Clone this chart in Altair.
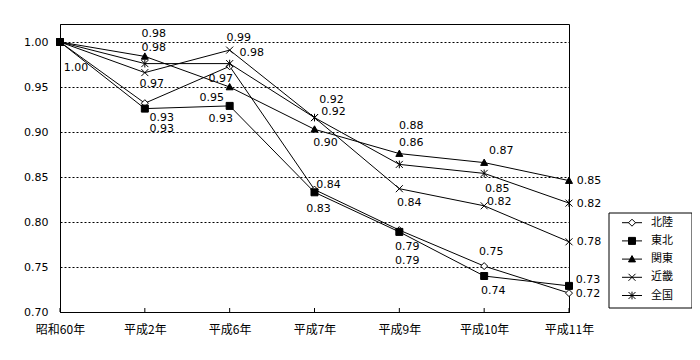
import altair as alt
import pandas as pd

categories = ["昭和60年", "平成2年", "平成6年", "平成7年", "平成9年", "平成10年", "平成11年"]
series_names = ["北陸", "東北", "関東", "近畿", "全国"]

hokuriku = [1.00, 0.932, 0.973, 0.836, 0.791, 0.751, 0.721]
tohoku = [1.00, 0.926, 0.929, 0.833, 0.789, 0.740, 0.729]
kanto = [1.00, 0.984, 0.950, 0.903, 0.876, 0.866, 0.846]
kinki = [1.00, 0.966, 0.991, 0.916, 0.837, 0.818, 0.778]
zenkoku = [1.00, 0.976, 0.976, 0.916, 0.864, 0.854, 0.821]

y_ticks = [0.70, 0.75, 0.80, 0.85, 0.90, 0.95, 1.00]

# label placement offsets in pixels (styling only)
label_dx = {
    "北陸": [16, 17, -9, 14, 8, 7, 19],
    "東北": [0, 17, -9, 4, 8, 9, 19],
    "関東": [0, 9, -18, 11, 12, 17, 20],
    "近畿": [0, 7, 9, 17, 10, 15, 20],
    "全国": [0, 9, 22, 19, 12, 13, 20],
}
label_dy = {
    "北陸": [26, 15, 13, -5, 17, -14, 1],
    "東北": [0, 20, 13, 17, 29, 15, -6],
    "関東": [0, -22, 11, 14, -28, -12, 0],
    "近畿": [0, 11, -12, -18, 14, -4, 0],
    "全国": [0, -16, -11, -6, -21, 16, 1],
}

values = {"北陸": hokuriku, "東北": tohoku, "関東": kanto, "近畿": kinki, "全国": zenkoku}

rows = []
for s in series_names:
    for i, c in enumerate(categories):
        rows.append({
            "series": s, "cat": c, "idx": i, "value": values[s][i],
            "dx": label_dx[s][i], "dy": label_dy[s][i],
            "show": (i > 0) or (s == "北陸"),
        })
df = pd.DataFrame(rows)

marker_paths = [
    "M0,-1L1,0L0,1L-1,0Z",
    "M-1,-1H1V1H-1Z",
    "M0,-1L1,0.8L-1,0.8Z",
    "M-1,-1L1,1M-1,1L1,-1",
    "M-1,-1L1,1M-1,1L1,-1M0,-1.1L0,1.1",
]
fills = ["white", "black", "black", "transparent", "transparent"]

num_font = "DejaVu Sans"
jp_font = "Noto Sans CJK JP"

shape_enc = alt.Shape("series:N", scale=alt.Scale(domain=series_names, range=marker_paths), legend=None)
fill_enc = alt.Fill("series:N", scale=alt.Scale(domain=series_names, range=fills), legend=None)

x_enc = alt.X("cat:N", sort=categories, scale=alt.Scale(type="point", padding=0),
              axis=alt.Axis(title=None, labelAngle=0, ticks=False, labelPadding=12,
                            labelFont=jp_font, labelFontSize=12, labelColor="black",
                            domainColor="black", grid=False))
y_enc = alt.Y("value:Q", scale=alt.Scale(domain=[0.70, 1.02], nice=False, zero=False),
              axis=alt.Axis(title=None, values=y_ticks, format=".2f", ticks=False,
                            labelPadding=12, labelFont=num_font, labelFontSize=11,
                            labelColor="black", domainColor="black", grid=True,
                            gridColor="black", gridDash=[2, 2], gridWidth=1))

base = alt.Chart(df).encode(x=x_enc, y=y_enc)

lines = base.mark_line(color="black", strokeWidth=1).encode(
    detail="series:N", order="idx:Q")

points = base.mark_point(filled=True, stroke="black", strokeWidth=1, size=49, opacity=1).encode(
    shape=shape_enc, fill=fill_enc)

labels = base.transform_filter("datum.show").mark_text(
    font=num_font, fontSize=11, color="black",
    dx=alt.ExprRef("datum.dx"), dy=alt.ExprRef("datum.dy")).encode(
    text=alt.Text("value:Q", format=".2f"))

ticks = alt.Chart(pd.DataFrame({"cat": categories})).mark_rule(color="black").encode(
    x=alt.X("cat:N", sort=categories), y=alt.value(288), y2=alt.value(284))

main = alt.layer(lines, points, labels, ticks)

# hand-built legend (Excel style: line through marker, boxed)
legend_df = pd.DataFrame({"series": series_names})
legend_y = alt.Y("series:N", sort=series_names,
                 scale=alt.Scale(type="point", domain=series_names, range=[198.7, 271.5], padding=0),
                 axis=None)
leg_box = alt.Chart(pd.DataFrame({"k": [0]})).mark_rect(
    fill="white", stroke="black", strokeWidth=1).encode(
    x=alt.value(549), x2=alt.value(632), y=alt.value(189), y2=alt.value(284))
leg_rules = alt.Chart(legend_df).mark_rule(color="black", strokeWidth=1).encode(
    x=alt.value(562), x2=alt.value(582), y=legend_y)
leg_pts = alt.Chart(legend_df).mark_point(filled=True, stroke="black", strokeWidth=1, size=49, opacity=1).encode(
    x=alt.value(572), y=legend_y, shape=shape_enc, fill=fill_enc)
leg_txt = alt.Chart(legend_df).mark_text(
    align="left", baseline="middle", font=jp_font, fontSize=11, color="black").encode(
    x=alt.value(591), y=legend_y, text="series:N")
legend_layer = alt.layer(leg_box, leg_rules, leg_pts, leg_txt)

chart = alt.layer(main, legend_layer).resolve_scale(y="independent").properties(
    width=509, height=288,
    autosize=alt.AutoSizeParams(type="none"),
    padding={"left": 52, "top": 16, "right": 123, "bottom": 40},
).configure_view(stroke="black", strokeWidth=1)

chart.save("out.html", embed_options={"renderer": "svg", "actions": False})
